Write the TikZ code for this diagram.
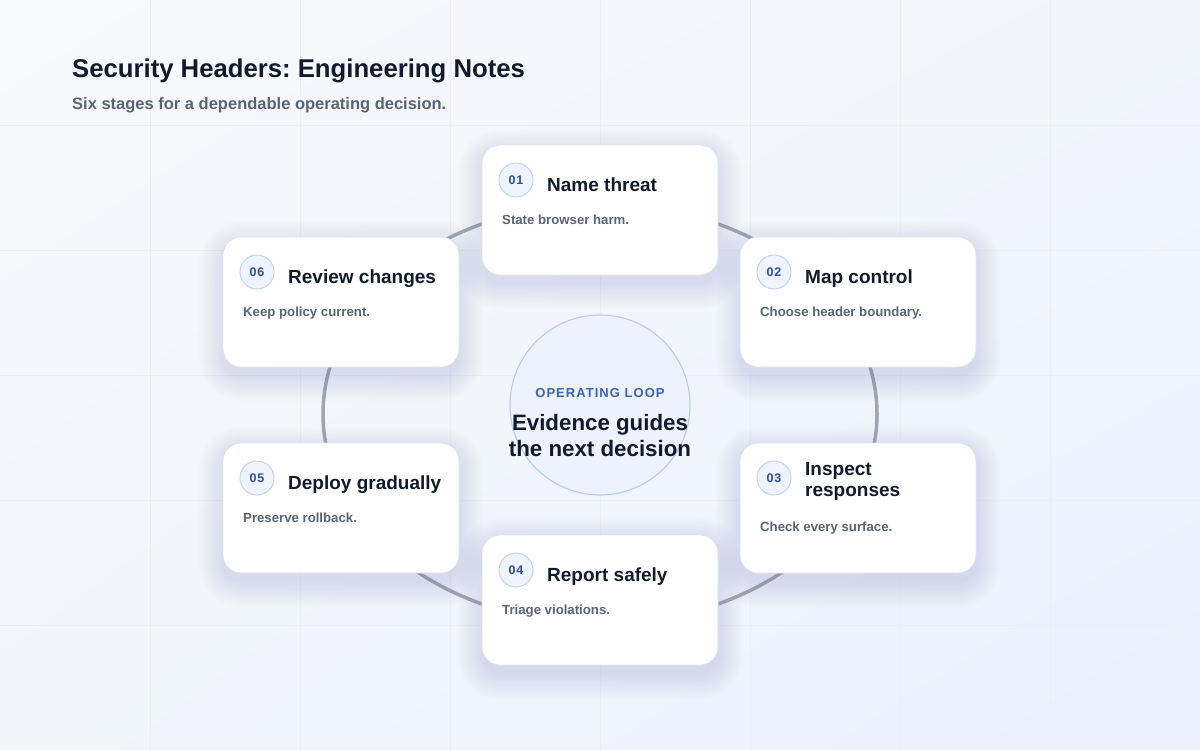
\documentclass[tikz,border=0pt]{standalone}
\usepackage{fontspec}
\setmainfont{Liberation Sans}
\usetikzlibrary{shadings}
\frenchspacing
\definecolor{bgA}{HTML}{F8F9FC}
\definecolor{bgB}{HTML}{F2F5FC}
\definecolor{bgC}{HTML}{F2F5FC}
\definecolor{bgD}{HTML}{EAF0FC}
\definecolor{gridc}{HTML}{EAEEF5}
\definecolor{ink}{HTML}{111A2C}
\definecolor{subink}{HTML}{5B6475}
\definecolor{ringc}{HTML}{A0A6B2}
\definecolor{cardline}{HTML}{DEE3EB}
\definecolor{badgefill}{HTML}{EEF3FD}
\definecolor{badgeline}{HTML}{C5D3EE}
\definecolor{numc}{HTML}{2E4F9E}
\definecolor{hubfill}{HTML}{EDF3FD}
\definecolor{hubline}{HTML}{BCCDEC}
\definecolor{loopc}{HTML}{3F62B5}
\definecolor{shadowc}{HTML}{4A5878}
\tikzset{
  gridline/.style={draw=gridc, line width=1pt},
  ringline/.style={draw=ringc, line width=3.5pt},
  card/.style={draw=cardline, line width=0.8pt, fill=white, rounded corners=18pt,
    minimum width=236pt, minimum height=130pt, inner sep=0pt},
  shadowlayer/.style={fill=shadowc, fill opacity=0.009},
  badge/.style={circle, draw=badgeline, line width=1pt, fill=badgefill, minimum size=34pt, inner sep=0pt,
    text=numc, font=\fontsize{12.5}{14}\selectfont\bfseries\addfontfeatures{LetterSpace=5}},
  cardtitle/.style={anchor=base west, inner sep=0pt, text=ink, font=\fontsize{19}{21}\selectfont\bfseries},
  carddesc/.style={anchor=base west, inner sep=0pt, text=subink, font=\fontsize{13.2}{15}\selectfont\bfseries},
  hub/.style={circle, draw=hubline, line width=1.2pt, fill=hubfill, minimum size=180pt, inner sep=0pt},
}
\newcommand\cardshadow[2]{%
  \foreach \k in {0,2,...,24} {%
    \pgfmathsetmacro\rr{18+\k}%
    \fill[shadowlayer, rounded corners=\rr pt] (#1-\k,#2+8-\k) rectangle (#1+236+\k,#2+140+\k);
  }%
}
\newcommand\stagecard[8]{%
  \node[card] (#1) at (#2+118,#3+65) {};
  \node[badge] (#1num) at (#2+34,#3+35) {#4};
  \node[cardtitle] (#1title) at (#2+65,#3+#6) {#5};
  \node[carddesc] (#1desc) at (#2+20,#3+#8) {#7};
}
\begin{document}
\begin{tikzpicture}[x=1pt,y=-1pt]
\useasboundingbox (0,0) rectangle (1200,750);
\shade[upper left=bgA, upper right=bgB, lower left=bgC, lower right=bgD] (0,0) rectangle (1200,750);
\foreach \gx in {150,300,...,1050} \draw[gridline] (\gx,0) -- (\gx,750);
\foreach \gy in {125,250,...,625} \draw[gridline] (0,\gy) -- (1200,\gy);

\node[anchor=base west, inner sep=0pt, text=ink, font=\fontsize{25.7}{30}\selectfont\bfseries] (title) at (72,77) {Security Headers: Engineering Notes};
\node[anchor=base west, inner sep=0pt, text=subink, font=\fontsize{16.5}{20}\selectfont\bfseries] (subtitle) at (72,109) {Six stages for a dependable operating decision.};

\draw[ringline] (600,414) ellipse [x radius=277, y radius=210];

\node[hub] (hub) at (600,405) {};
\node[anchor=base, inner sep=0pt, text=loopc, font=\fontsize{13}{15}\selectfont\bfseries\addfontfeatures{LetterSpace=8}] (hublabel) at (600,397) {OPERATING LOOP};
\node[anchor=base, inner sep=0pt, text=ink, font=\fontsize{22.3}{26}\selectfont\bfseries] (hubline1) at (600,430) {Evidence guides};
\node[anchor=base, inner sep=0pt, text=ink, font=\fontsize{22.3}{26}\selectfont\bfseries] (hubline2) at (600,456) {the next decision};

\cardshadow{482}{145}
\cardshadow{740}{237}
\cardshadow{740}{443}
\cardshadow{482}{535}
\cardshadow{223}{443}
\cardshadow{223}{237}

\stagecard{s1}{482}{145}{01}{Name threat}{46}{State browser harm.}{79}
\stagecard{s2}{740}{237}{02}{Map control}{46}{Choose header boundary.}{79}
\stagecard{s3}{740}{443}{03}{\vtop{\baselineskip=21pt\hbox{Inspect}\hbox{responses}}}{32}{Check every surface.}{88}
\stagecard{s4}{482}{535}{04}{Report safely}{46}{Triage violations.}{79}
\stagecard{s5}{223}{443}{05}{Deploy gradually}{46}{Preserve rollback.}{79}
\stagecard{s6}{223}{237}{06}{Review changes}{46}{Keep policy current.}{79}
\end{tikzpicture}
\end{document}
